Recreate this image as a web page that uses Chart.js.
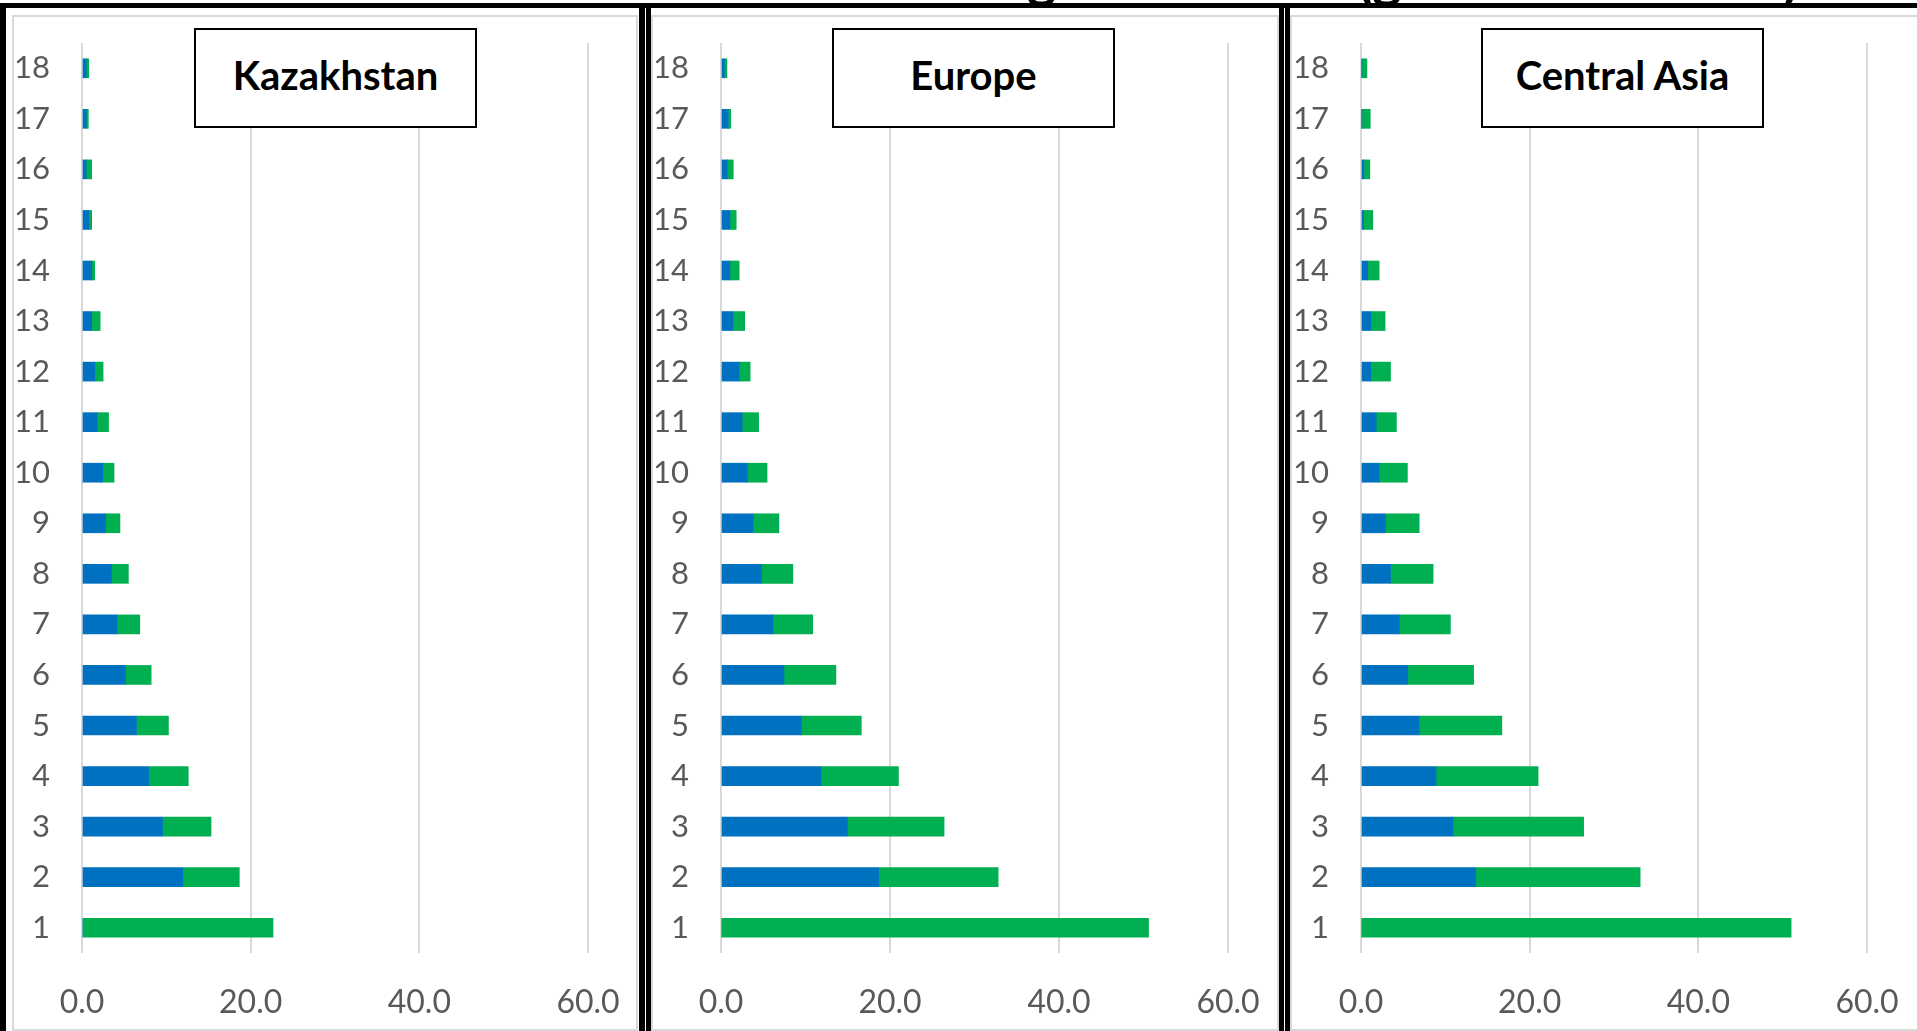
<!DOCTYPE html>
<html>
<head>
<meta charset="utf-8">
<script src="https://cdn.jsdelivr.net/npm/chart.js@4.4.1/dist/chart.umd.min.js"></script>
<style>
  html, body { margin: 0; padding: 0; background: #fff; }
  body { position: relative; width: 1917px; height: 1031px; overflow: hidden; font-family: Lato, sans-serif; }
  .linha { position: absolute; background: #000; z-index: 3; }
  .moldura { position: absolute; top: 15px; height: 1016px; border: 2px solid #d9d9d9; box-sizing: border-box; }
  .painel { position: absolute; top: 15px; }
  .titulo { position: absolute; top: 28px; width: 283px; height: 100px; box-sizing: border-box;
            border: 2px solid #000; background: #fff; display: flex; align-items: center;
            justify-content: center; padding-bottom: 7px; font: bold 40px Lato, sans-serif; color: #000; z-index: 2; }
  .cabeca { position: absolute; top: -52px; font: bold 56px Lato, sans-serif; line-height: 1; color: #000; z-index: 4; }
</style>
</head>
<body>

<div class="cabeca" style="left:1027px">g</div>
<div class="cabeca" style="left:1357px">(g</div>
<div class="cabeca" style="left:1784px">)</div>

<div class="linha" style="left:0; top:3px; width:1917px; height:5px"></div>
<div class="linha" style="left:0; top:3px; width:6px; height:1028px"></div>
<div class="linha" style="left:639px; top:3px; width:6px; height:1028px"></div>
<div class="linha" style="left:646px; top:3px; width:5px; height:1028px"></div>
<div class="linha" style="left:1279px; top:3px; width:5px; height:1028px"></div>
<div class="linha" style="left:1285px; top:3px; width:5px; height:1028px"></div>

<div class="moldura" style="left:12px; width:626px"></div>
<div class="moldura" style="left:651px; width:628px"></div>
<div class="moldura" style="left:1290px; width:640px"></div>

<canvas id="graficoKZ" class="painel" style="left:12px" width="624" height="1016"></canvas>
<canvas id="graficoEU" class="painel" style="left:651px" width="627" height="1016"></canvas>
<canvas id="graficoCA" class="painel" style="left:1290px" width="627" height="1016"></canvas>

<div class="titulo" style="left:194px">Kazakhstan</div>
<div class="titulo" style="left:832px">Europe</div>
<div class="titulo" style="left:1481px">Central Asia</div>

<script>
// categorias 1..18 (1 fica embaixo)
const categorias = ["1","2","3","4","5","6","7","8","9","10","11","12","13","14","15","16","17","18"];
const ticksX = [0, 20, 40, 60];

const kzAzul  = [0, 11.95, 9.55, 7.9, 6.45, 5.15, 4.15, 3.5, 2.8, 2.45, 1.8, 1.5, 1.15, 1.15, 0.8, 0.5, 0.5, 0.5];
const kzVerde = [22.65, 6.7, 5.75, 4.7, 3.8, 3.05, 2.7, 2.0, 1.7, 1.35, 1.35, 1.0, 1.0, 0.35, 0.35, 0.65, 0.25, 0.3];

const euAzul  = [0, 18.65, 14.95, 11.85, 9.5, 7.45, 6.15, 4.8, 3.8, 3.1, 2.5, 2.15, 1.4, 1.05, 1.05, 0.75, 0.85, 0.4];
const euVerde = [50.6, 14.15, 11.45, 9.15, 7.1, 6.15, 4.7, 3.7, 3.05, 2.35, 1.95, 1.3, 1.4, 1.1, 0.75, 0.7, 0.3, 0.3];

const caAzul  = [0, 13.6, 10.9, 8.9, 6.9, 5.55, 4.55, 3.5, 2.9, 2.15, 1.8, 1.15, 1.15, 0.8, 0.3, 0.35, 0.1, 0.1];
const caVerde = [51.0, 19.5, 15.5, 12.1, 9.8, 7.8, 6.05, 5.05, 4.0, 3.35, 2.4, 2.35, 1.7, 1.35, 1.1, 0.7, 1.0, 0.6];

const AZUL = "#0070C0";
const VERDE = "#00B050";
const CINZA_TEXTO = "#595959";

function montarPainel(idCanvas, azul, verde, larguraY, respiroDireita) {
  const ctx = document.getElementById(idCanvas).getContext("2d");
  return new Chart(ctx, {
    type: "bar",
    data: {
      labels: categorias,
      datasets: [
        { data: azul,  backgroundColor: AZUL,  borderWidth: 0, barThickness: 19 },
        { data: verde, backgroundColor: VERDE, borderWidth: 0, barThickness: 19 }
      ]
    },
    options: {
      indexAxis: "y",
      responsive: false,
      animation: false,
      layout: { padding: { top: 28, right: respiroDireita, bottom: 0, left: 0 } },
      plugins: { legend: { display: false }, tooltip: { enabled: false } },
      scales: {
        x: {
          stacked: true,
          min: ticksX[0],
          max: ticksX[ticksX.length - 1],
          afterBuildTicks: (s) => { s.ticks = ticksX.map(v => ({ value: v })); },
          afterFit: (s) => {
            s.height = 78;
            s.paddingLeft = 0;
            s.paddingRight = 0;
          },
          grid: { color: "#d9d9d9", lineWidth: 2, drawTicks: false },
          border: { display: false },
          ticks: {
            padding: 30,
            color: CINZA_TEXTO,
            font: { family: "Lato", size: 32 },
            callback: (v) => Number(v).toFixed(1)
          }
        },
        y: {
          stacked: true,
          reverse: true,
          afterFit: (s) => {
            s.width = larguraY;
            s.paddingTop = 0;
            s.paddingBottom = 0;
          },
          grid: { display: false, drawTicks: false },
          border: { display: false },
          ticks: {
            padding: 32,
            color: CINZA_TEXTO,
            font: { family: "Lato", size: 31 }
          }
        }
      }
    }
  });
}

montarPainel("graficoKZ", kzAzul, kzVerde, 70, 48);
montarPainel("graficoEU", euAzul, euVerde, 70, 50);
montarPainel("graficoCA", caAzul, caVerde, 71, 50);
</script>
</body>
</html>
